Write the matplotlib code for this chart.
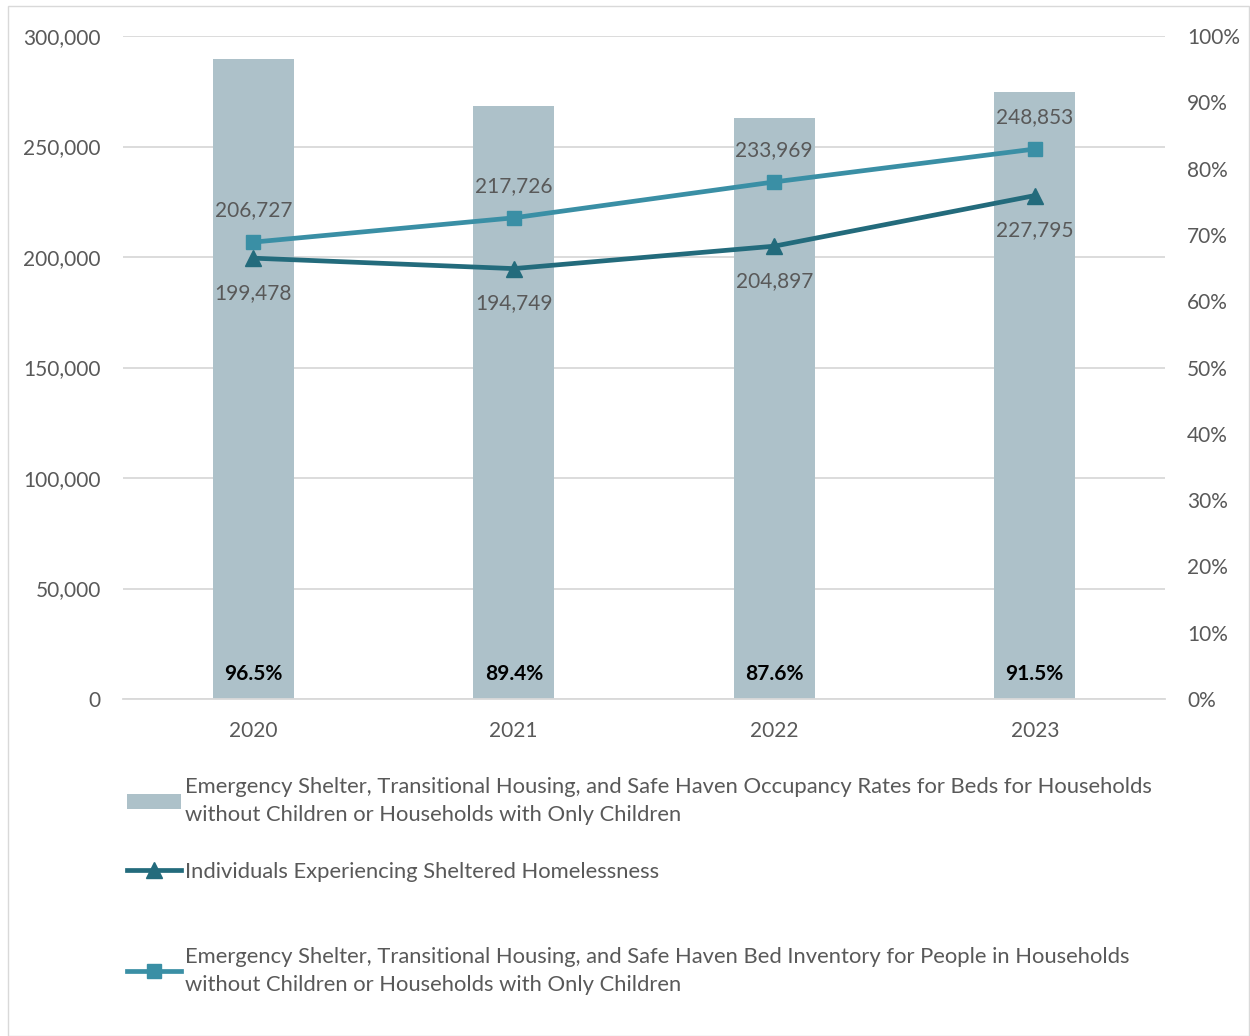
import matplotlib.pyplot as plt
from matplotlib.patches import Rectangle, Patch
from matplotlib.lines import Line2D
from matplotlib.ticker import FuncFormatter

plt.rcParams['font.family'] = ['Lato', 'DejaVu Sans']

years = ['2020', '2021', '2022', '2023']
occupancy_pct = [96.5, 89.4, 87.6, 91.5]
individuals = [199478, 194749, 204897, 227795]
bed_inventory = [206727, 217726, 233969, 248853]

bar_label = ('Emergency Shelter, Transitional Housing, and Safe Haven Occupancy Rates for Beds for Households\n'
             'without Children or Households with Only Children')
ind_label = 'Individuals Experiencing Sheltered Homelessness'
bed_label = ('Emergency Shelter, Transitional Housing, and Safe Haven Bed Inventory for People in Households\n'
             'without Children or Households with Only Children')

BAR_COLOR = '#adc1c9'
IND_COLOR = '#236b7c'
BED_COLOR = '#3a8fa5'
TEXT = '#595959'
GRID = '#d9d9d9'
FS = 15
LEG_FS = 15.8

W, H = 1250, 1036
fig = plt.figure(figsize=(W / 100, H / 100), dpi=100)

# border around the chart
fig.patches.append(Rectangle((8 / W, 0), 1 - 8 / W - 0.0005, 1 - 6 / H, transform=fig.transFigure,
                             fill=False, edgecolor=GRID, linewidth=1))

rect = [123 / W, 1 - 699 / H, (1165 - 123) / W, (699 - 36) / H]
ax = fig.add_axes(rect)  # grid + left axis
ax2 = ax.twinx()  # bars, right axis
ax3 = ax.twinx()  # lines on left scale

x = list(range(len(years)))

# grid / left axis
ax.set_xlim(-0.5, len(years) - 0.5)
ax.set_ylim(0, 300000)
ax.set_yticks(range(0, 300001, 50000))
ax.yaxis.set_major_formatter(FuncFormatter(lambda v, p: f'{int(v):,}'))
ax.yaxis.grid(True, color=GRID, linewidth=1.3)
ax.set_xticks(x)
ax.set_xticklabels(years)
ax.tick_params(axis='both', length=0, labelsize=FS, labelcolor=TEXT)
ax.tick_params(axis='y', pad=16)
ax.tick_params(axis='x', pad=16)
for s in ax.spines.values():
    s.set_visible(False)

# bars
ax2.bar(x, occupancy_pct, width=0.31, color=BAR_COLOR, zorder=2)
ax2.set_ylim(0, 100)
ax2.set_yticks(range(0, 101, 10))
ax2.yaxis.set_major_formatter(FuncFormatter(lambda v, p: f'{int(v)}%'))
ax2.tick_params(axis='y', length=0, labelsize=FS, labelcolor=TEXT, pad=16)
for s in ax2.spines.values():
    s.set_visible(False)
ax2.spines['bottom'].set_visible(True)
ax2.spines['bottom'].set_color(GRID)
ax2.spines['bottom'].set_linewidth(1.3)
for xi, v in zip(x, occupancy_pct):
    ax2.annotate(f'{v}%', xy=(xi, 0), xytext=(0, 18), textcoords='offset points',
                 ha='center', va='center', fontsize=FS, fontweight='bold', color='black')

# lines
ax3.set_ylim(ax.get_ylim())
ax3.set_yticks([])
for s in ax3.spines.values():
    s.set_visible(False)
ax3.plot(x, individuals, color=IND_COLOR, linewidth=3.4, marker='^', markersize=11, zorder=3)
ax3.plot(x, bed_inventory, color=BED_COLOR, linewidth=3.4, marker='s', markersize=10, zorder=4)
for xi, v in zip(x, individuals):
    ax3.annotate(f'{v:,}', xy=(xi, v), xytext=(0, -25), textcoords='offset points',
                 ha='center', va='center', fontsize=FS, color=TEXT)
for xi, v in zip(x, bed_inventory):
    ax3.annotate(f'{v:,}', xy=(xi, v), xytext=(0, 23), textcoords='offset points',
                 ha='center', va='center', fontsize=FS, color=TEXT)

# legend entries, one per block
entries = [
    (Patch(facecolor=BAR_COLOR, edgecolor='none'), bar_label, 801),
    (Line2D([], [], color=IND_COLOR, linewidth=3.4, marker='^', markersize=11), ind_label, 872),
    (Line2D([], [], color=BED_COLOR, linewidth=3.4, marker='s', markersize=10), bed_label, 971),
]
for handle, label, ypx in entries:
    leg = fig.legend([handle], [label], loc='center left', bbox_to_anchor=(127 / W, 1 - ypx / H),
                     frameon=False, fontsize=LEG_FS, labelcolor=TEXT, borderpad=0, borderaxespad=0,
                     handlelength=2.45, handletextpad=0.2)
    for t in leg.get_texts():
        t.set_linespacing(1.45)

fig.savefig('out.png', dpi=100)
